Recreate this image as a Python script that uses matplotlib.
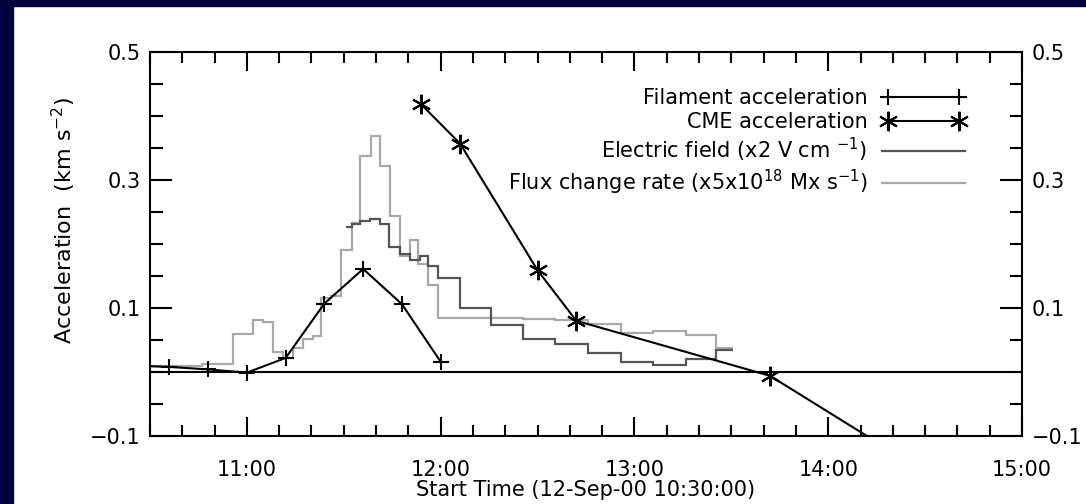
import matplotlib
matplotlib.use("Agg")
import matplotlib.pyplot as plt
from matplotlib.patches import Rectangle
from matplotlib.ticker import FixedLocator, MultipleLocator

# time in decimal hours (UT, 12-Sep-2000)
fil_time = [10.4, 10.6, 10.8, 11.0, 11.2, 11.4, 11.6, 11.8, 12.0]
fil_acc = [0.010, 0.008, 0.004, -0.001, 0.022, 0.107, 0.161, 0.106, 0.016]

cme_time = [11.9, 12.1, 12.5, 12.7, 13.7, 14.7]
cme_acc = [0.418, 0.357, 0.159, 0.080, -0.006, -0.194]

# electric field (x2 V/cm), step edges + values
ef_edges = [11.514, 11.540, 11.582, 11.634, 11.686, 11.735, 11.789, 11.840, 11.892,
            11.935, 11.986, 12.098, 12.261, 12.424, 12.590, 12.759, 12.931, 13.094,
            13.266, 13.421, 13.507]
ef_vals = [0.226, 0.231, 0.236, 0.2385, 0.231, 0.195, 0.185, 0.175, 0.181,
           0.165, 0.147, 0.100, 0.073, 0.052, 0.044, 0.030, 0.016, 0.011,
           0.021, 0.035]

# flux change rate (x5e18 Mx/s)
fx_edges = [10.5, 10.766, 10.929, 11.032, 11.084, 11.136, 11.187, 11.239, 11.290,
            11.342, 11.385, 11.436, 11.488, 11.540, 11.582, 11.643, 11.686, 11.737,
            11.789, 11.840, 11.883, 11.934, 11.986, 12.261, 12.424, 12.590, 12.759,
            12.931, 13.094, 13.266, 13.421, 13.507]
fx_vals = [0.009, 0.013, 0.059, 0.081, 0.078, 0.031, 0.022, 0.038, 0.051,
           0.056, 0.116, 0.119, 0.190, 0.233, 0.3375, 0.369, 0.322, 0.244,
           0.181, 0.207, 0.168, 0.136, 0.085, 0.084, 0.083, 0.082, 0.075,
           0.061, 0.064, 0.058, 0.037]

xticks = [11, 12, 13, 14, 15]
xticklabels = ["11:00", "12:00", "13:00", "14:00", "15:00"]
yticks = [-0.1, 0.1, 0.3, 0.5]

plt.rcParams['font.family'] = ['DejaVu Sans']
fig = plt.figure(figsize=(10.86, 5.04), dpi=100)
fig.patch.set_facecolor("white")
navy = "#03003f"
fig.patches.append(Rectangle((0, 0), 13 / 1086, 1, transform=fig.transFigure, color=navy, zorder=0))
fig.patches.append(Rectangle((0, 1 - 6 / 504), 1, 6 / 504, transform=fig.transFigure, color=navy, zorder=0))

ax = fig.add_axes([150 / 1086, 1 - 436 / 504, 872 / 1086, 384 / 504])

ax.axhline(0, color="black", lw=1.5, zorder=1)
ax.stairs(fx_vals, fx_edges, baseline=None, color="#a9a9a9", lw=1.6,
          label="Flux change rate (x5x10$^{18}$ Mx s$^{-1}$)", zorder=2)
ax.stairs(ef_vals, ef_edges, baseline=None, color="#555555", lw=1.6,
          label="Electric field (x2 V cm $^{-1}$)", zorder=3)
ax.plot(fil_time, fil_acc, color="black", lw=1.5, marker="+", ms=12, mew=1.5,
        label="Filament acceleration", zorder=4)
ax.plot(cme_time, cme_acc, color="black", lw=1.5, marker=(6, 2, 0), ms=14, mew=1.5,
        label="CME acceleration", zorder=4)

ax.set_xlim(10.5, 15.0)
ax.set_ylim(-0.1, 0.5)

ax.xaxis.set_major_locator(FixedLocator(xticks))
ax.set_xticklabels(xticklabels)
ax.xaxis.set_minor_locator(MultipleLocator(1 / 6))
ax.yaxis.set_major_locator(FixedLocator(yticks))
ax.set_yticklabels([f"{v:.1f}".replace("-", "\u2212") for v in yticks])
ax.yaxis.set_minor_locator(MultipleLocator(0.05))

ax.tick_params(axis="both", which="both", direction="in", top=True, right=True,
               labelsize=15, colors="black")
ax.tick_params(axis="y", which="major", length=16, width=1.5, labelright=True, pad=7)
ax.tick_params(axis="y", which="minor", length=9, width=1.5)
ax.tick_params(axis="x", which="major", length=14, width=1.5, pad=17)
ax.tick_params(axis="x", which="minor", length=8, width=1.5)
for s in ax.spines.values():
    s.set_linewidth(1.5)

ax.set_xlabel("Start Time (12-Sep-00 10:30:00)", fontsize=15, labelpad=0)
ax.set_ylabel("Acceleration  (km s$^{-2}$)", fontsize=16)
ax.yaxis.set_label_coords(-0.083, 0.5625)

h, l = ax.get_legend_handles_labels()
order = [2, 3, 1, 0]
ax.legend([h[i] for i in order], [l[i] for i in order], loc="upper right",
          bbox_to_anchor=(0.935, 0.905), frameon=False, markerfirst=False,
          numpoints=2, handlelength=4.0, handletextpad=0.7, labelspacing=0.18,
          fontsize=15, borderpad=0, borderaxespad=0)

fig.savefig("out.png", dpi=100, facecolor="white")
